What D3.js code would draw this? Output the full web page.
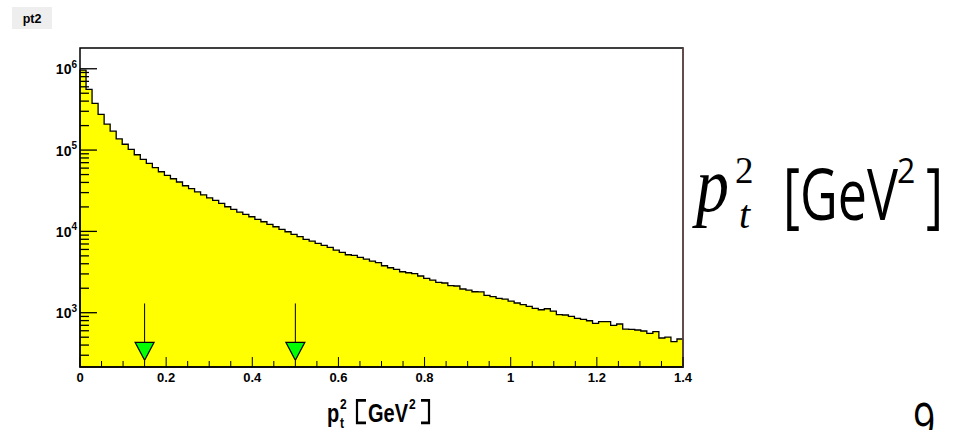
<!DOCTYPE html>
<html>
<head>
<meta charset="utf-8">
<script src="https://cdn.jsdelivr.net/npm/d3@7"></script>
<style>
  body { margin: 0; background: #fff; }
  svg text { font-family: "Liberation Sans", Arial, sans-serif; }
</style>
</head>
<body>
<div id="chart"></div>
<script>
// histogram range and bin contents
var xMin = 0, xMax = 1.4;
var counts = [
  964000, 558000, 375000, 275000, 209000, 171000, 137000, 118000, 102000, 87600,
  76900, 68700, 60700, 54100, 48900, 44400, 40500, 36400, 33500, 30700,
  28200, 25900, 24100, 22100, 20100, 18700, 17300, 16200, 15150, 14070,
  13150, 12210, 11410, 10600, 9900, 9200, 8600, 7990, 7610, 7130,
  6740, 6370, 5900, 5530, 5160, 5080, 4800, 4570, 4320, 4120,
  3780, 3570, 3420, 3190, 3100, 3020, 2830, 2650, 2520, 2360,
  2320, 2150, 2130, 1956, 1900, 1810, 1800, 1636, 1573, 1503,
  1473, 1392, 1316, 1254, 1198, 1132, 1088, 1119, 1049, 945,
  937, 903, 853, 829, 797, 740, 775, 775, 700, 726,
  630, 625, 613, 596, 558, 584, 489, 502, 440, 475
];
var yDomain = [215, 1.8e6];

var xTicks = [0, 0.2, 0.4, 0.6, 0.8, 1, 1.2, 1.4];
var xTickLabels = ["0", "0.2", "0.4", "0.6", "0.8", "1", "1.2", "1.4"];
var yTickExps = [3, 4, 5, 6];

// cut arrows
var arrowX = [0.15, 0.5];
var arrowFrom = 1300, arrowTo = 260;

var margin = {top: 48, left: 80},
    width = 603,
    height = 319;

var svg = d3.select("#chart")
  .append("svg")
    .attr("width", 970)
    .attr("height", 430);

// title box
svg.append("rect")
  .attr("x", 12).attr("y", 7)
  .attr("width", 40).attr("height", 22)
  .attr("fill", "#eeeeee");
svg.append("text")
  .attr("x", 32).attr("y", 23)
  .attr("text-anchor", "middle")
  .style("font-size", "12.5px")
  .style("font-weight", "bold")
  .text("pt2");

var g = svg.append("g")
  .attr("transform", "translate(" + margin.left + "," + margin.top + ")");

var x = d3.scaleLinear().domain([xMin, xMax]).range([0, width]);
var y = d3.scaleLog().domain(yDomain).range([height, 0]);

// histogram as a step path
var binW = (xMax - xMin) / counts.length;
var path = d3.path();
path.moveTo(x(xMin), height);
counts.forEach(function(c, i) {
  path.lineTo(x(xMin + i * binW), y(c));
  path.lineTo(x(xMin + (i + 1) * binW), y(c));
});
path.lineTo(x(xMax), height);
path.closePath();

g.append("path")
  .attr("d", path.toString())
  .attr("fill", "#ffff00")
  .attr("stroke", "#000")
  .attr("stroke-width", 1.3)
  .attr("stroke-linejoin", "miter");

// frame
g.append("rect")
  .attr("x", 0).attr("y", 0)
  .attr("width", width).attr("height", height)
  .attr("fill", "none")
  .attr("stroke", "#000")
  .attr("stroke-width", 1.5);
g.append("line")
  .attr("x1", width).attr("x2", width)
  .attr("y1", 0).attr("y2", height)
  .attr("stroke", "#6e5050")
  .attr("stroke-width", 1.5);

// x ticks (inside)
var xMinor = d3.range(0, 29).map(function(i) { return i * 0.05; });
g.selectAll(".xminor")
  .data(xMinor)
  .enter().append("line")
    .attr("x1", function(d) { return x(d); })
    .attr("x2", function(d) { return x(d); })
    .attr("y1", height)
    .attr("y2", function(d, i) { return i % 4 === 0 ? height - 10 : height - 6; })
    .attr("stroke", "#000")
    .attr("stroke-width", 1);

g.selectAll(".xlab")
  .data(xTicks)
  .enter().append("text")
    .attr("x", function(d) { return x(d); })
    .attr("y", height + 15)
    .attr("text-anchor", "middle")
    .style("font-size", "13px")
    .style("font-weight", "bold")
    .text(function(d, i) { return xTickLabels[i]; });

// y ticks (inside), major + minor
var yMinor = [];
[2, 3, 4, 5, 6].forEach(function(e) {
  for (var m = 1; m <= 9; m++) {
    var v = m * Math.pow(10, e);
    if (v >= yDomain[0] && v <= yDomain[1]) yMinor.push({v: v, major: m === 1});
  }
});
g.selectAll(".ytick")
  .data(yMinor)
  .enter().append("line")
    .attr("x1", 0)
    .attr("x2", function(d) { return d.major ? 17 : 9; })
    .attr("y1", function(d) { return y(d.v); })
    .attr("y2", function(d) { return y(d.v); })
    .attr("stroke", "#000")
    .attr("stroke-width", 1.3);

var ylab = g.selectAll(".ylab")
  .data(yTickExps)
  .enter().append("text")
    .attr("x", -3)
    .attr("y", function(d) { return y(Math.pow(10, d)) + 5.5; })
    .attr("text-anchor", "end")
    .style("font-size", "14px")
    .style("font-weight", "bold");
ylab.append("tspan").text("10");
ylab.append("tspan")
  .attr("dy", -6.5)
  .style("font-size", "10px")
  .text(function(d) { return d; });

// arrows
arrowX.forEach(function(a) {
  var ax = x(a), y0 = y(arrowFrom), y1 = y(arrowTo);
  g.append("line")
    .attr("x1", ax).attr("x2", ax)
    .attr("y1", y0).attr("y2", y1 - 18)
    .attr("stroke", "#000").attr("stroke-width", 1);
  g.append("path")
    .attr("d", "M" + (ax - 9.5) + "," + (y1 - 18) + "L" + (ax + 9.5) + "," + (y1 - 18) + "L" + ax + "," + y1 + "Z")
    .attr("fill", "#00ff00")
    .attr("stroke", "#000")
    .attr("stroke-width", 1.2);
});

// x axis title  p_t^2 [GeV^2]
var tt = svg.append("g")
  .attr("transform", "translate(327,421.7) scale(1,1.25)");
tt.append("text").attr("x", 0).attr("y", 0)
  .style("font-size", "20px").style("font-weight", "bold").text("p");
tt.append("text").attr("x", 13).attr("y", -10)
  .style("font-size", "12px").style("font-weight", "bold").text("2");
tt.append("text").attr("x", 13).attr("y", 5)
  .style("font-size", "12px").style("font-weight", "bold").text("t");
tt.append("path")
  .attr("d", "M39,-17H30V1H39")
  .attr("fill", "none").attr("stroke", "#000").attr("stroke-width", 2.2);
tt.append("text").attr("x", 41).attr("y", 0)
  .style("font-size", "20px").style("font-weight", "bold").text("GeV");
tt.append("text").attr("x", 82).attr("y", -10)
  .style("font-size", "12px").style("font-weight", "bold").text("2");
tt.append("path")
  .attr("d", "M94,-17H102V1H94")
  .attr("fill", "none").attr("stroke", "#000").attr("stroke-width", 2.2);

// big latex label on the right
function big(txt, px, py, size, sy, family, style) {
  svg.append("text")
    .attr("transform", "translate(" + px + "," + py + ") scale(1," + sy + ")")
    .style("font-family", family)
    .style("font-style", style || "normal")
    .style("font-size", size + "px")
    .text(txt);
}
var serif = "'Liberation Serif', serif", sans = "'Open Sans', sans-serif";
big("p", 696, 211, 66, 1.2, serif, "italic");
big("2", 735, 183, 37, 1.0, serif);
big("t", 739, 228, 40, 1.0, serif, "italic");
big("[", 783, 220, 52, 1.38, sans);
big("GeV", 800, 220, 52, 1.38, sans);
big("2", 897, 183, 32, 1.1, sans);
big("]", 926, 220, 52, 1.38, sans);

// page number
big("9", 913, 441, 39, 1.38, sans);
</script>
</body>
</html>
